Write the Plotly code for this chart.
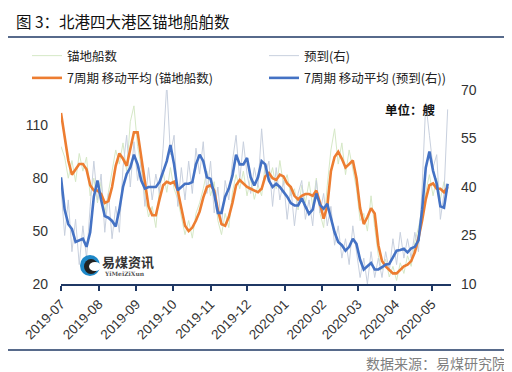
import plotly.graph_objects as go
import pandas as pd

# ---------------- data ----------------
dates = pd.date_range("2019-07-01", periods=107, freq="3D")

tick_dates = ["2019-07-01", "2019-08-01", "2019-09-01", "2019-10-01", "2019-11-01",
              "2019-12-01", "2020-01-01", "2020-02-01", "2020-03-01", "2020-04-01",
              "2020-05-01"]
tick_labels = ["2019-07", "2019-08", "2019-09", "2019-10", "2019-11", "2019-12",
               "2020-01", "2020-02", "2020-03", "2020-04", "2020-05"]

# 锚地船数 (raw, left axis)
anchor_raw = [98, 92, 80, 90, 78, 94, 84, 92, 70, 80, 66, 78, 60, 72, 82, 96, 88, 100, 84, 112,
              121, 98, 86, 70, 58, 64, 52, 74, 84, 72, 86, 74, 68, 58, 48, 56, 46, 60, 66, 74,
              84, 70, 78, 56, 48, 60, 52, 72, 82, 74, 84, 70, 80, 68, 76, 70, 88, 78, 86, 74,
              90, 76, 82, 70, 74, 62, 76, 66, 78, 64, 80, 60, 52, 76, 96, 108, 88, 100, 82, 96,
              84, 74, 56, 60, 50, 70, 52, 36, 28, 34, 24, 30, 22, 32, 26, 36, 30, 44, 52, 62,
              74, 82, 70, 80, 68, 78, 72]

# 预到(右) (raw, right axis)
arrival_raw = [40, 25, 36, 20, 30, 16, 28, 18, 34, 48, 36, 44, 26, 38, 24, 34, 26, 46, 56, 40,
               54, 42, 48, 34, 46, 36, 44, 38, 52, 72, 50, 56, 34, 46, 36, 48, 38, 52, 44, 54,
               38, 48, 32, 40, 28, 42, 36, 48, 56, 42, 54, 44, 38, 46, 40, 58, 44, 48, 34, 46,
               36, 42, 30, 40, 28, 38, 42, 30, 36, 28, 42, 32, 38, 28, 34, 22, 28, 18, 24, 16,
               28, 20, 12, 18, 10, 20, 12, 18, 12, 20, 14, 24, 16, 26, 18, 24, 18, 26, 20, 40,
               66, 56, 46, 50, 30, 38, 64]

# 7周期 移动平均 (锚地船数)
anchor_ma = [117, 104, 90, 82, 85, 88, 88, 85, 76, 73, 73, 71, 66, 67, 75, 87, 94, 91, 87, 96,
             106, 106, 91, 77, 64, 59, 59, 68, 76, 78, 77, 78, 73, 63, 53, 50, 52, 56, 61, 69,
             75, 76, 73, 62, 54, 53, 58, 66, 76, 79, 77, 75, 74, 73, 72, 74, 81, 83, 80, 79,
             82, 81, 77, 75, 70, 68, 70, 71, 71, 70, 73, 66, 57, 64, 84, 92, 95, 91, 86, 88,
             90, 80, 63, 54, 58, 63, 60, 42, 33, 30, 28, 26, 26, 28, 30, 31, 33, 38, 46, 56,
             68, 76, 77, 74, 74, 72, 75]

# 7周期 移动平均 (预到(右))
arrival_ma = [43, 33, 28.5, 27, 23, 23.5, 24, 21.5, 26, 37, 42, 36, 31, 30.5, 29.5, 27.8, 33, 40,
              44, 46, 50, 47, 42, 39.5, 40, 40, 40, 41.5, 44.5, 48, 53, 47, 39, 40, 41, 41, 41.5,
              47, 50, 48, 43, 42.5, 38, 32, 32, 37, 39.5, 43.5, 50, 47, 47, 49, 43, 40.5, 43, 48,
              47, 42, 40, 41, 40, 38.5, 37, 35, 34.3, 34.3, 36.5, 34, 31.7, 33, 38, 34.5, 33.3,
              34.8, 30, 26, 23, 22, 20.3, 21.5, 24, 22.4, 17.5, 14.5, 15.5, 16.5, 14.5, 14.5,
              15.2, 16, 16.2, 18.5, 20.3, 20.5, 20.9, 19.8, 21, 21.5, 23.5, 33, 46, 51, 45, 41,
              34, 33.6, 41]

# ---------------- styles ----------------
GREEN_RAW = "#D5E8C6"
GRAY_RAW = "#C8D0DE"
ORANGE = "#ED7D31"
BLUE = "#4472C4"
NAVY = "#1F3864"
FONT = "Noto Sans CJK SC"

W, H = 512, 372
L, R, T, B = 53, 69, 82, 96
PW, PH = W - L - R, H - T - B


def px2x(px):
    return (px - L) / PW


def px2y(py):
    return (H - B - py) / PH


fig = go.Figure()
fig.add_trace(go.Scatter(x=dates, y=anchor_raw, name="锚地船数", mode="lines",
                         line=dict(color=GREEN_RAW, width=1), yaxis="y", legend="legend",
                         legendgroup="a"))
fig.add_trace(go.Scatter(x=dates, y=arrival_raw, name="预到(右)", mode="lines",
                         line=dict(color=GRAY_RAW, width=1), yaxis="y2", legend="legend2",
                         legendgroup="b"))
fig.add_trace(go.Scatter(x=dates, y=anchor_ma, name="7周期 移动平均 (锚地船数)", mode="lines",
                         line=dict(color=ORANGE, width=2.6), yaxis="y3", legend="legend",
                         legendgroup="c"))
fig.add_trace(go.Scatter(x=dates, y=arrival_ma, name="7周期 移动平均 (预到(右))", mode="lines",
                         line=dict(color=BLUE, width=2.6), yaxis="y4", legend="legend2",
                         legendgroup="d"))

tickfont = dict(family="Liberation Sans, Arial", size=14, color="#333333")
legfont = dict(family=FONT, size=12.5, color="#222222")

fig.update_layout(
    width=W, height=H,
    margin=dict(l=L, r=R, t=T, b=B),
    paper_bgcolor="white", plot_bgcolor="white",
    font=dict(family=FONT, size=12, color="#222222"),
    xaxis=dict(type="date", range=["2019-07-01", "2020-05-16 18:00"],
               tickvals=tick_dates, ticktext=tick_labels, tickangle=-45,
               tickfont=dict(family="Liberation Sans, Arial", size=13.5, color="#333333"),
               showgrid=False, zeroline=False, showline=True, linecolor=NAVY, linewidth=2,
               ticks="outside", ticklen=5, tickwidth=2, tickcolor=NAVY),
    yaxis=dict(range=[20, 130], tickvals=[20, 50, 80, 110], showgrid=False, zeroline=False,
               showline=False, tickfont=tickfont, ticks="", ticklabelstandoff=12),
    yaxis2=dict(range=[10, 70], tickvals=[10, 25, 40, 55, 70], overlaying="y", side="right",
                showgrid=False, zeroline=False, showline=False, tickfont=tickfont, ticks="",
                ticklabelstandoff=9),
    yaxis3=dict(range=[20, 130], overlaying="y", visible=False),
    yaxis4=dict(range=[10, 70], overlaying="y", visible=False),
    legend=dict(x=px2x(19), y=px2y(33), xanchor="left", yanchor="top",
                font=legfont, bgcolor="rgba(0,0,0,0)", traceorder="grouped",
                tracegroupgap=3, itemwidth=30),
    legend2=dict(x=px2x(256), y=px2y(33), xanchor="left", yanchor="top",
                 font=legfont, bgcolor="rgba(0,0,0,0)", traceorder="grouped",
                 tracegroupgap=3, itemwidth=30),
    showlegend=True,
)

# title, rules, source, unit, watermark
fig.add_annotation(text="图 3：北港四大港区锚地船舶数", xref="paper", yref="paper",
                   x=px2x(6), y=px2y(13), xanchor="left", yanchor="middle", showarrow=False,
                   font=dict(family=FONT, size=15.5, color="#111111"))
fig.add_shape(type="line", xref="paper", yref="paper", x0=px2x(0), x1=px2x(W),
              y0=px2y(29), y1=px2y(29), line=dict(color=NAVY, width=1.5))
fig.add_shape(type="line", xref="paper", yref="paper", x0=px2x(0), x1=px2x(W),
              y0=px2y(342), y1=px2y(342), line=dict(color=NAVY, width=1.5))
fig.add_annotation(text="数据来源：易煤研究院", xref="paper", yref="paper",
                   x=px2x(428), y=px2y(355), xanchor="center", yanchor="middle",
                   showarrow=False, font=dict(family=FONT, size=14, color="#7F7F7F"))
fig.add_annotation(text="<b>单位：艘</b>", xref="paper", yref="paper",
                   x=px2x(402), y=px2y(101), xanchor="center", yanchor="middle",
                   showarrow=False, font=dict(family=FONT, size=12.5, color="#111111"))
# watermark logo
fig.add_shape(type="circle", xref="paper", yref="paper", x0=px2x(72), x1=px2x(92),
              y0=px2y(268), y1=px2y(247), fillcolor="#1E88C8", line=dict(width=0))
fig.add_shape(type="circle", xref="paper", yref="paper", x0=px2x(76), x1=px2x(90),
              y0=px2y(266), y1=px2y(251), fillcolor="#222222", line=dict(width=0))
fig.add_shape(type="circle", xref="paper", yref="paper", x0=px2x(81), x1=px2x(93),
              y0=px2y(263), y1=px2y(254), fillcolor="white", line=dict(width=0))
fig.add_annotation(text="<b>易煤资讯</b>", xref="paper", yref="paper",
                   x=px2x(92), y=px2y(253), xanchor="left", yanchor="middle", showarrow=False,
                   font=dict(family=FONT, size=13, color="#333333"))
fig.add_annotation(text="<b>YiMeiZiXun</b>", xref="paper", yref="paper",
                   x=px2x(94), y=px2y(265), xanchor="left", yanchor="middle", showarrow=False,
                   font=dict(family="DejaVu Serif", size=6, color="#555555"))

fig.write_html("out.html")
